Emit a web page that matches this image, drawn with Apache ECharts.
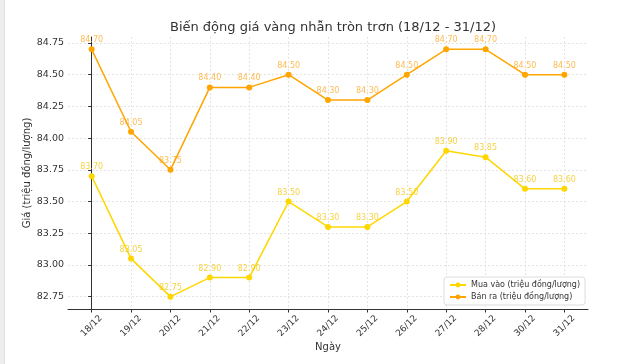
<!DOCTYPE html>
<html>
<head>
<meta charset="utf-8">
<script src="https://cdn.jsdelivr.net/npm/echarts@6/dist/echarts.min.js"></script>
<style>html,body{margin:0;padding:0;background:#fff}#c{width:639px;height:364px}</style>
</head>
<body>
<div id="c"></div>
<script>
const categories = ['18/12','19/12','20/12','21/12','22/12','23/12','24/12','25/12','26/12','27/12','28/12','30/12','31/12'];
const muaVao = [83.70, 83.05, 82.75, 82.90, 82.90, 83.50, 83.30, 83.30, 83.50, 83.90, 83.85, 83.60, 83.60];
const banRa  = [84.70, 84.05, 83.75, 84.40, 84.40, 84.50, 84.30, 84.30, 84.50, 84.70, 84.70, 84.50, 84.50];
const yTicks = [82.75, 83.00, 83.25, 83.50, 83.75, 84.00, 84.25, 84.50, 84.75];
const xTicks = categories.map((_, i) => i);

const font = 'DejaVu Sans';
const all = muaVao.concat(banRa);
const lo = Math.min(...all), hi = Math.max(...all);
const pad = (hi - lo) * 0.05;
const n = categories.length;

function mk(name, vals, color, labelColor) {
  return {
    name, type: 'line',
    data: vals.map((v, i) => [i, v]),
    symbol: 'circle', symbolSize: 6,
    lineStyle: { color, width: 1.5 },
    itemStyle: { color },
    label: {
      show: true, position: 'top', distance: 2,
      formatter: p => p.value[1].toFixed(2),
      color: labelColor, fontFamily: font, fontSize: 8
    },
    emphasis: { disabled: true }
  };
}

const chart = echarts.init(document.getElementById('c'), null, { renderer: 'canvas' });
chart.setOption({
  animation: false,
  backgroundColor: '#fff',
  graphic: [
    { type: 'rect', left: 0, top: 0, shape: { width: 4, height: 364 }, style: { fill: '#eeeeee' }, silent: true },
    { type: 'rect', left: 4, top: 0, shape: { width: 1, height: 364 }, style: { fill: '#e2e2e2' }, silent: true }
  ],
  title: {
    text: 'Biến động giá vàng nhẫn tròn trơn (18/12 - 31/12)',
    left: 328, top: 16, textAlign: 'center',
    textStyle: { fontFamily: font, fontSize: 13, fontWeight: 'normal', color: '#333' }
  },
  legend: {
    orient: 'vertical', left: 444, top: 277,
    data: ['Mua vào (triệu đồng/lượng)', 'Bán ra (triệu đồng/lượng)'],
    itemWidth: 16, itemHeight: 6, itemGap: 4,
    padding: [4, 5, 4, 5],
    backgroundColor: 'rgba(255,255,255,0.85)', borderColor: '#ddd', borderWidth: 1, borderRadius: 3,
    textStyle: { fontFamily: font, fontSize: 8, color: '#333' }
  },
  grid: { left: 68, right: 51, top: 37, bottom: 55 },
  xAxis: {
    type: 'value', min: -0.6, max: n - 1 + 0.6,
    name: 'Ngày', nameLocation: 'middle', nameGap: 33, nameMoveOverlap: false,
    nameTextStyle: { fontFamily: font, fontSize: 10, color: '#333' },
    axisLine: { show: true, lineStyle: { color: '#333', width: 1 } },
    axisTick: { show: true, customValues: xTicks, length: 3.5, lineStyle: { color: '#333' } },
    axisLabel: {
      customValues: xTicks, rotate: 45, margin: 17,
      align: 'center', verticalAlign: 'middle',
      formatter: v => categories[Math.round(v)] || '',
      fontFamily: font, fontSize: 9, color: '#333'
    },
    splitLine: { show: true, lineStyle: { color: '#ddd', type: [2, 2], width: 0.8 } }
  },
  yAxis: {
    type: 'value', min: lo - pad, max: hi + pad,
    name: 'Giá (triệu đồng/lượng)', nameLocation: 'middle', nameGap: 36, nameRotate: 90, nameMoveOverlap: false,
    nameTextStyle: { fontFamily: font, fontSize: 10, color: '#333' },
    axisLine: { show: true, lineStyle: { color: '#333', width: 1 } },
    axisTick: { show: true, customValues: yTicks, length: 3.5, lineStyle: { color: '#333' } },
    axisLabel: {
      customValues: yTicks, margin: 4,
      formatter: v => v.toFixed(2),
      fontFamily: font, fontSize: 9.5, color: '#333'
    },
    splitLine: { show: true, lineStyle: { color: '#ddd', type: [2, 2], width: 0.8 } }
  },
  series: [
    mk('Mua vào (triệu đồng/lượng)', muaVao, '#FFD700', 'rgba(245,200,20,0.8)'),
    mk('Bán ra (triệu đồng/lượng)', banRa, '#FFA500', 'rgba(255,170,40,0.8)')
  ]
});
</script>
</body>
</html>
